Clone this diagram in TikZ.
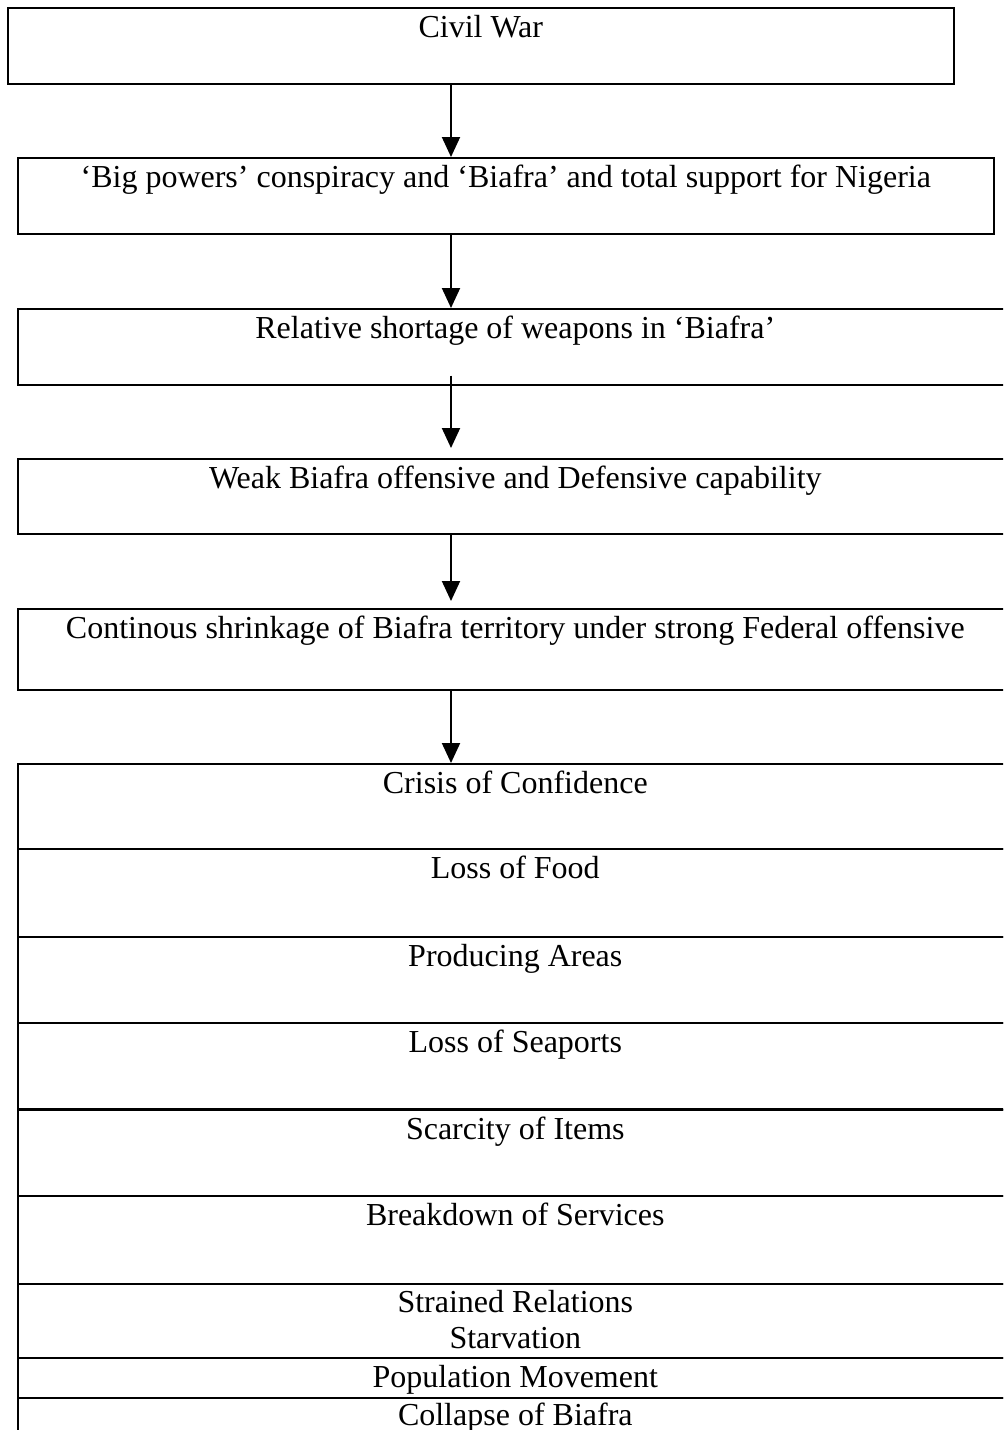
\documentclass[tikz,border=0pt]{standalone}
\usepackage{fontspec}
\setmainfont{Liberation Serif}
\usetikzlibrary{arrows.meta,calc}
\tikzset{
  boxst/.style={draw, line width=0.8pt, anchor=north west, inner sep=0pt},
  lbl/.style={anchor=base, inner sep=0pt, font=\fontsize{16pt}{18pt}\selectfont},
  arr/.style={line width=1pt, -{Triangle[width=9pt,length=10pt]}},
}
\begin{document}
\begin{tikzpicture}[x=0.5pt, y=-0.5pt]
\useasboundingbox (0,0) rectangle (1003,1430);
\clip (0,0) rectangle (1003,1430);
\fill[white] (0,0) rectangle (1003,1430);
% flow boxes
\node[boxst, minimum width=473pt, minimum height=38pt] (b1) at (7,7) {};
\node[boxst, minimum width=488pt, minimum height=38pt] (b2) at (17,157) {};
\node[boxst, minimum width=497.5pt, minimum height=38pt] (b3) at (17,308) {};
\node[boxst, minimum width=497.5pt, minimum height=37.5pt] (b4) at (17,458) {};
\node[boxst, minimum width=497.5pt, minimum height=40.5pt] (b5) at (17,608) {};
% stacked cells
\node[boxst, minimum width=497.5pt, minimum height=42.5pt] (c1) at (17,763) {};
\node[boxst, minimum width=497.5pt, minimum height=44pt] (c2) at (17,848) {};
\node[boxst, minimum width=497.5pt, minimum height=43pt] (c3) at (17,936) {};
\node[boxst, minimum width=497.5pt, minimum height=43.5pt] (c4) at (17,1022) {};
\node[boxst, minimum width=497.5pt, minimum height=43pt] (c5) at (17,1109) {};
\node[boxst, minimum width=497.5pt, minimum height=44pt] (c6) at (17,1195) {};
\node[boxst, minimum width=497.5pt, minimum height=37pt] (c7) at (17,1283) {};
\node[boxst, minimum width=497.5pt, minimum height=20pt] (c8) at (17,1357) {};
\node[boxst, minimum width=497.5pt, minimum height=25pt] (c9) at (17,1397) {};
\draw[line width=1.3pt] (c5.north west) -- (c5.north east);
% labels
\node[lbl] (t1) at ($(b1.north)+(0,30)$) {Civil War};
\node[lbl] (t2) at ($(b2.north)+(0,30)$) {‘Big powers’ conspiracy and ‘Biafra’ and total support for Nigeria};
\node[lbl] (t3) at ($(b3.north)+(0,30)$) {Relative shortage of weapons in ‘Biafra’};
\node[lbl] (t4) at ($(b4.north)+(0,30)$) {Weak Biafra offensive and Defensive capability};
\node[lbl] (t5) at ($(b5.north)+(0,30)$) {Continous shrinkage of Biafra territory under strong Federal offensive};
\node[lbl] (s1) at ($(c1.north)+(0,30)$) {Crisis of Confidence};
\node[lbl] (s2) at ($(c2.north)+(0,30)$) {Loss of Food};
\node[lbl] (s3) at ($(c3.north)+(0,30)$) {Producing Areas};
\node[lbl] (s4) at ($(c4.north)+(0,30)$) {Loss of Seaports};
\node[lbl] (s5) at ($(c5.north)+(0,30)$) {Scarcity of Items};
\node[lbl] (s6) at ($(c6.north)+(0,30)$) {Breakdown of Services};
\node[lbl] (s7) at ($(c7.north)+(0,29)$) {Strained Relations};
\node[lbl] (s7b) at ($(c7.north)+(0,65)$) {Starvation};
\node[lbl] (s8) at ($(c8.north)+(0,30)$) {Population Movement};
\node[lbl] (s9) at ($(c9.north)+(0,28)$) {Collapse of Biafra};
% arrows
\coordinate (ax) at (451,0);
\draw[arr] (b1.south -| ax) -- (b2.north -| ax);
\draw[arr] (b2.south -| ax) -- (b3.north -| ax);
\draw[arr] ($(b3.south -| ax)+(0,-10)$) -- ($(b4.north -| ax)+(0,-10)$);
\draw[arr] (b4.south -| ax) -- ($(b5.north -| ax)+(0,-7)$);
\draw[arr] (b5.south -| ax) -- (c1.north -| ax);
\end{tikzpicture}
\end{document}
